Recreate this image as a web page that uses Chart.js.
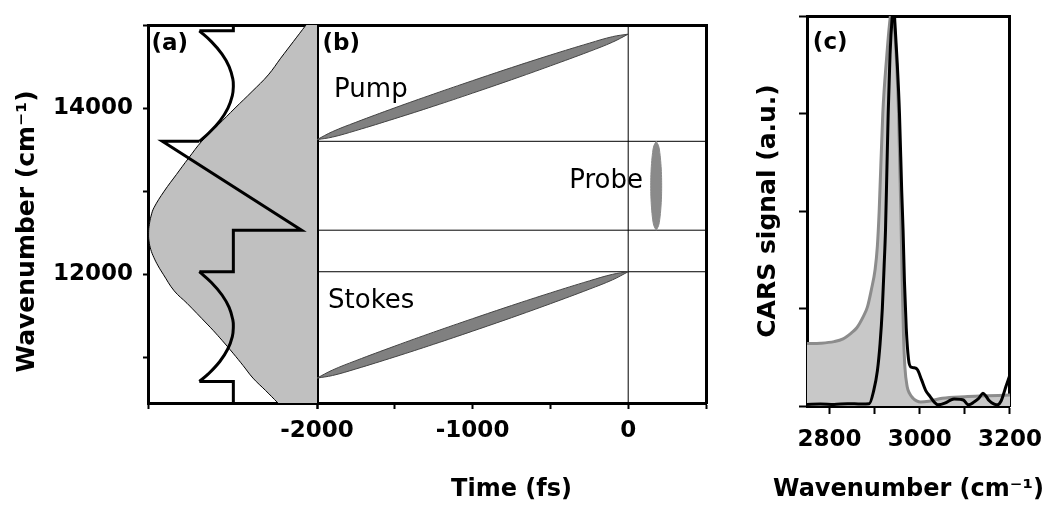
<!DOCTYPE html>
<html>
<head>
<meta charset="utf-8">
<script src="https://cdn.jsdelivr.net/npm/chart.js@4.4.1/dist/chart.umd.min.js"></script>
<style>
  body { margin: 0; background: #fff; }
  #wrap { position: relative; width: 1054px; height: 507px; }
  #c1 { position: absolute; left: 0; top: 0; }
  #c2 { position: absolute; left: 730px; top: 0; }
</style>
</head>
<body>
<div id="wrap">
  <canvas id="c1" width="730" height="507"></canvas>
  <canvas id="c2" width="324" height="507"></canvas>
</div>
<script>
// ---------------- DATA ----------------
// panel (a): laser spectrum (drawn from the right edge) and the shaping mask
const specWn    = [15000, 14800, 14600, 14400, 14200, 14000, 13800, 13600, 13400, 13200, 13000, 12800, 12700, 12600, 12500, 12400, 12300, 12200, 12100, 12000, 11800, 11650, 11400, 11325, 11200, 11050, 10900, 10750, 10600, 10450];
const specLevel = [0.935, 0.86, 0.785, 0.712, 0.616, 0.515, 0.417, 0.318, 0.241, 0.168, 0.096, 0.035, 0.018, 0.008, 0.004, 0.006, 0.016, 0.035, 0.06, 0.09, 0.155, 0.231, 0.35, 0.385, 0.44, 0.503, 0.563, 0.621, 0.696, 0.769];

const arc1Wn  = [14930, 14800, 14650, 14500, 14350, 14265, 14150, 14000, 13850, 13700, 13600];
const arc1Val = [0.304, 0.375, 0.438, 0.480, 0.502, 0.505, 0.499, 0.473, 0.427, 0.360, 0.304];
const arc2Wn  = [12030, 11900, 11750, 11600, 11450, 11370, 11250, 11100, 10950, 10800, 10710];
const arc2Val = [0.304, 0.375, 0.438, 0.480, 0.502, 0.505, 0.499, 0.472, 0.425, 0.357, 0.304];
const stepWn  = [15000, 14930, 14930, null, 13600, 13600, 12530, 12530, 12030, 12030, null, 10710, 10710, 10450];
const stepVal = [0.505, 0.505, 0.304, null, 0.304, 0.085, 0.909, 0.505, 0.505, 0.304, null, 0.304, 0.505, 0.505];

// panel (b): pulses in time
const levelWn    = [13600, 12530, 12030];
const zeroTime   = [0, 0];
const zeroWn     = [10450, 15000];
const pulseT     = [-2000, -1900, -1750, -1500, -1250, -1000, -750, -500, -250, -100, 0];
const pumpTop    = [13620, 13717, 13829, 14003, 14169, 14330, 14487, 14638, 14781, 14860, 14890];
const pumpBottom = [13620, 13651, 13729, 13873, 14023, 14180, 14341, 14508, 14681, 14794, 14890];
const stokesTop    = [10750, 10847, 10960, 11135, 11303, 11465, 11623, 11775, 11920, 11999, 12030];
const stokesBottom = [10750, 10781, 10860, 11005, 11157, 11315, 11477, 11645, 11820, 11933, 12030];
const probeWn    = [12530, 12584, 12664, 12798, 12931, 13065, 13199, 13333, 13466, 13547, 13600];
const probeLeft  = [180, 165, 157, 150, 146, 145, 146, 150, 157, 165, 180];
const probeRight = [180, 195, 203, 210, 214, 215, 214, 210, 203, 195, 180];

// panel (c): CARS spectra
const refWn  = [2750, 2780, 2810, 2830, 2848, 2860, 2875, 2884, 2893, 2901, 2906, 2910, 2918, 2927, 2933, 2938, 2944, 2949, 2953, 2958, 2961, 2964, 2967, 2972, 2977, 2985, 2993, 3002, 3020, 3050, 3100, 3150, 3200];
const refSig = [0.16, 0.161, 0.165, 0.172, 0.187, 0.2, 0.23, 0.254, 0.3, 0.35, 0.41, 0.5, 0.75, 0.9, 0.98, 1.02, 0.97, 0.87, 0.75, 0.5, 0.32, 0.18, 0.1, 0.05, 0.033, 0.02, 0.013, 0.01, 0.012, 0.02, 0.024, 0.026, 0.028];
const carsWn  = [2750, 2780, 2810, 2840, 2870, 2888, 2898, 2906, 2912, 2917, 2921, 2924, 2927, 2930, 2934, 2939, 2942, 2945, 2950, 2955, 2960, 2963, 2966, 2970, 2975, 2980, 2988, 2995, 3004, 3013, 3023, 3032, 3040, 3057, 3068, 3076, 3090, 3097, 3108, 3121, 3131, 3140, 3147, 3153, 3165, 3172, 3180, 3185, 3191, 3196, 3200];
const carsSig = [0.004, 0.005, 0.004, 0.006, 0.005, 0.006, 0.04, 0.09, 0.16, 0.25, 0.36, 0.45, 0.6, 0.75, 0.9, 1.0, 1.03, 0.98, 0.88, 0.75, 0.55, 0.45, 0.32, 0.2, 0.12, 0.1, 0.098, 0.093, 0.067, 0.04, 0.024, 0.01, 0.003, 0.008, 0.015, 0.018, 0.017, 0.015, 0.003, 0.011, 0.02, 0.033, 0.025, 0.015, 0.005, 0.003, 0.012, 0.028, 0.05, 0.067, 0.08];

// ticks
const wnTicks    = [11000, 12000, 13000, 14000, 15000];
const wnLabels   = [12000, 14000];
const timeTicks  = [-2000, -1500, -1000, -500, 0, 500];
const timeLabels = [-2000, -1000, 0];
const ramanTicks  = [2800, 2900, 3000, 3100, 3200];
const ramanLabels = [2800, 3000, 3200];
const sigTicks    = [0, 0.25, 0.5, 0.75, 1];

// ---------------- HELPERS ----------------
const toPts = (xs, ys) => xs.map((x, i) => ({ x: x, y: ys[i] }));

const tickFont   = { family: "'DejaVu Sans'", weight: 'bold', size: 23 };
const xTitleFont = { family: "'DejaVu Sans'", weight: 'bold', size: 24 };
const yTitleFont = { family: "'DejaVu Sans'", weight: 'bold', size: 25 };

Chart.defaults.color = '#000';
Chart.defaults.font.family = "'DejaVu Sans'";

function notesPlugin(items) {
  return {
    id: 'notes',
    afterDraw(chart) {
      const ctx = chart.ctx;
      items.forEach(n => {
        const xs = chart.scales[n.xAxis];
        const ys = chart.scales[n.yAxis];
        ctx.save();
        ctx.font = n.font;
        ctx.fillStyle = '#000';
        ctx.textAlign = 'left';
        ctx.textBaseline = 'alphabetic';
        ctx.fillText(n.text, xs.getPixelForValue(n.x), ys.getPixelForValue(n.y));
        ctx.restore();
      });
    }
  };
}

// x-axis caption drawn without the squeeze chart.js applies to long titles
function captionPlugin(axisId, text, font, padBottom) {
  return {
    id: 'caption',
    afterDraw(chart) {
      const s = chart.scales[axisId];
      const ctx = chart.ctx;
      ctx.save();
      ctx.font = font.weight + ' ' + font.size + 'px ' + font.family;
      ctx.fillStyle = '#000';
      ctx.textAlign = 'center';
      ctx.textBaseline = 'middle';
      ctx.fillText(text, (s.left + s.right) / 2, s.bottom - padBottom - font.size * 0.6);
      ctx.restore();
    }
  };
}

function frameAxis(position) {
  return {
    type: 'linear', position: position, min: 0, max: 1, z: 1,
    ticks: { display: false },
    grid: { drawOnChartArea: false, drawTicks: false },
    border: { color: '#000', width: 3 }
  };
}

const boldNote = "bold 23px 'DejaVu Sans'";
const plainNote = "26px 'DejaVu Sans'";

// ---------------- PANELS (a) + (b) ----------------
const lineDatasets = levelWn.map(L => ({
  label: 'level ' + L, xAxisID: 'xb', yAxisID: 'y',
  data: toPts([timeTicks[0], timeTicks[timeTicks.length - 1]], [L, L]),
  borderColor: '#000', borderWidth: 1
}));

new Chart(document.getElementById('c1'), {
  type: 'line',
  data: {
    datasets: [
      { label: 'Mask arc 1', xAxisID: 'xa', yAxisID: 'y', data: toPts(arc1Val, arc1Wn),
        borderColor: '#000', borderWidth: 3, tension: 0.4 },
      { label: 'Mask arc 2', xAxisID: 'xa', yAxisID: 'y', data: toPts(arc2Val, arc2Wn),
        borderColor: '#000', borderWidth: 3, tension: 0.4 },
      { label: 'Mask steps', xAxisID: 'xa', yAxisID: 'y', data: toPts(stepVal, stepWn),
        borderColor: '#000', borderWidth: 3, spanGaps: false },
      { label: 'Spectrum', xAxisID: 'xa', yAxisID: 'y', indexAxis: 'y', data: toPts(specLevel, specWn),
        borderColor: '#000', borderWidth: 1, backgroundColor: '#c0c0c0', fill: { value: 1 },
        tension: 0.4 },

      { label: 'Pump top', xAxisID: 'xb', yAxisID: 'y', data: toPts(pulseT, pumpTop),
        borderColor: '#444', borderWidth: 1, tension: 0.4 },
      { label: 'Pump bottom', xAxisID: 'xb', yAxisID: 'y', data: toPts(pulseT, pumpBottom),
        borderColor: '#444', borderWidth: 1, tension: 0.4, fill: '-1', backgroundColor: '#808080' },
      { label: 'Stokes top', xAxisID: 'xb', yAxisID: 'y', data: toPts(pulseT, stokesTop),
        borderColor: '#444', borderWidth: 1, tension: 0.4 },
      { label: 'Stokes bottom', xAxisID: 'xb', yAxisID: 'y', data: toPts(pulseT, stokesBottom),
        borderColor: '#444', borderWidth: 1, tension: 0.4, fill: '-1', backgroundColor: '#808080' },
      { label: 'Probe left', xAxisID: 'xb', yAxisID: 'y', indexAxis: 'y', data: toPts(probeLeft, probeWn),
        borderColor: '#8a8a8a', borderWidth: 1, tension: 0.4 },
      { label: 'Probe right', xAxisID: 'xb', yAxisID: 'y', indexAxis: 'y', data: toPts(probeRight, probeWn),
        borderColor: '#8a8a8a', borderWidth: 1, tension: 0.4, fill: '-1', backgroundColor: '#8a8a8a' },

      { label: 'Time zero', xAxisID: 'xb', yAxisID: 'y', data: toPts(zeroTime, zeroWn),
        borderColor: '#000', borderWidth: 1 },
      ...lineDatasets
    ]
  },
  options: {
    responsive: false,
    animation: false,
    layout: { padding: { top: 25, right: 24, left: 0, bottom: 0 } },
    elements: { point: { radius: 0 }, line: { tension: 0 } },
    plugins: { legend: { display: false }, tooltip: { enabled: false } },
    scales: {
      xa: {
        type: 'linear', position: 'bottom', stack: 'time', stackWeight: 169, min: 0, max: 1, z: 1,
        afterBuildTicks: s => { s.ticks = [{ value: 0 }, { value: 1 }]; },
        ticks: { display: false },
        grid: {
          color: c => (c.tick && c.tick.value === 1) ? '#000' : 'rgba(0,0,0,0)',
          lineWidth: 3, tickColor: '#000', tickWidth: 2, tickLength: 6
        },
        border: { color: '#000', width: 3 },
        afterFit: s => { s.height = 104; }
      },
      xb: {
        type: 'linear', position: 'bottom', stack: 'time', stackWeight: 389, min: -2000, max: 500, z: 1,
        afterBuildTicks: s => { s.ticks = timeTicks.map(v => ({ value: v })); },
        ticks: {
          font: tickFont, color: '#000', padding: 8, maxRotation: 0, autoSkip: false,
          callback: v => timeLabels.includes(v) ? String(v) : ''
        },
        grid: { drawOnChartArea: false, tickColor: '#000', tickWidth: 2, tickLength: 6 },
        border: { color: '#000', width: 3 },
        title: { display: true, text: 'Time (fs)', font: xTitleFont, color: '#000', padding: { top: 0, bottom: 3 } },
        afterFit: s => { s.height = 104; }
      },
      xt: frameAxis('top'),
      y: {
        type: 'linear', position: 'left', min: 10450, max: 15000, z: 1,
        afterBuildTicks: s => { s.ticks = wnTicks.map(v => ({ value: v })); },
        ticks: {
          font: tickFont, color: '#000', padding: 10,
          callback: v => wnLabels.includes(v) ? String(v) : ''
        },
        grid: { drawOnChartArea: false, tickColor: '#000', tickWidth: 2, tickLength: 5 },
        border: { color: '#000', width: 3 },
        // trailing spaces move the centred caption down, as in the original layout
        title: { display: true, text: 'Wavenumber (cm\u207B\u00B9)    ', font: yTitleFont, color: '#000', padding: { top: 12, bottom: 0 } },
        afterFit: s => { s.width = 148; }
      },
      yr: frameAxis('right')
    }
  },
  plugins: [notesPlugin([
    { text: '(a)', xAxis: 'xa', yAxis: 'y', x: 0.02, y: 14700, font: boldNote },
    { text: '(b)', xAxis: 'xb', yAxis: 'y', x: -1964, y: 14700, font: boldNote },
    { text: 'Pump', xAxis: 'xb', yAxis: 'y', x: -1890, y: 14135, font: plainNote },
    { text: 'Probe', xAxis: 'xb', yAxis: 'y', x: -379, y: 13036, font: plainNote },
    { text: 'Stokes', xAxis: 'xb', yAxis: 'y', x: -1929, y: 11590, font: plainNote }
  ])]
});

// ---------------- PANEL (c) ----------------
new Chart(document.getElementById('c2'), {
  type: 'line',
  data: {
    datasets: [
      { label: 'CARS', data: toPts(carsWn, carsSig), borderColor: '#000', borderWidth: 3,
        cubicInterpolationMode: 'monotone' },
      { label: 'Reference', data: toPts(refWn, refSig), borderColor: '#8c8c8c', borderWidth: 3,
        backgroundColor: '#c8c8c8', fill: 'origin', cubicInterpolationMode: 'monotone' }
    ]
  },
  options: {
    responsive: false,
    animation: false,
    layout: { padding: { top: 16, right: 33, left: 0, bottom: 0 } },
    elements: { point: { radius: 0 } },
    plugins: { legend: { display: false }, tooltip: { enabled: false } },
    scales: {
      x: {
        type: 'linear', position: 'bottom', min: 2750, max: 3200, z: 1,
        afterBuildTicks: s => { s.ticks = ramanTicks.map(v => ({ value: v })); },
        ticks: {
          font: tickFont, color: '#000', padding: 12, maxRotation: 0, autoSkip: false,
          callback: v => ramanLabels.includes(v) ? String(v) : ''
        },
        grid: { drawOnChartArea: false, tickColor: '#000', tickWidth: 2, tickLength: 8 },
        border: { color: '#000', width: 3 },
        afterFit: s => { s.height = 101; }
      },
      xt: frameAxis('top'),
      y: {
        type: 'linear', position: 'left', min: 0, max: 1, z: 1,
        afterBuildTicks: s => { s.ticks = sigTicks.map(v => ({ value: v })); },
        ticks: { display: false },
        grid: { drawOnChartArea: false, tickColor: '#000', tickWidth: 2, tickLength: 8 },
        border: { color: '#000', width: 3 },
        title: { display: true, text: 'CARS signal (a.u.)', font: yTitleFont, color: '#000', padding: { top: 23, bottom: 0 } },
        afterFit: s => { s.width = 77; }
      },
      yr: frameAxis('right')
    }
  },
  plugins: [
    notesPlugin([{ text: '(c)', xAxis: 'x', yAxis: 'y', x: 2763, y: 0.915, font: boldNote }]),
    captionPlugin('x', 'Wavenumber (cm\u207B\u00B9)', xTitleFont, 3)
  ]
});
</script>
</body>
</html>
